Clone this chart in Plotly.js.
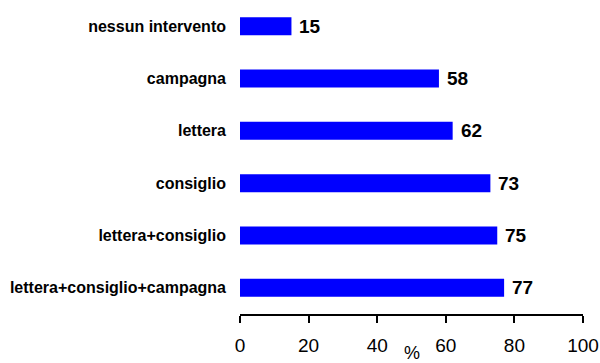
<!DOCTYPE html>
<html>
<head>
<meta charset="utf-8">
<script src="https://cdn.plot.ly/plotly-3.0.1.min.js"></script>
<style>html,body{margin:0;padding:0;background:#fff}#chart{width:600px;height:363px}</style>
</head>
<body>
<div id="chart"></div>
<script>
const categories = ["nessun intervento", "campagna", "lettera", "consiglio", "lettera+consiglio", "lettera+consiglio+campagna"];
const values = [15, 58, 62, 73, 75, 77];
const tickValues = [0, 20, 40, 60, 80, 100];
const axisTitle = "%";

const trace = {
  type: 'bar',
  orientation: 'h',
  y: categories,
  x: values,
  marker: {color: '#0000FF', line: {width: 0}},
  hoverinfo: 'none'
};

const valueLabels = categories.map((c, i) => ({
  x: values[i], y: c, xref: 'x', yref: 'y',
  text: String(values[i]), showarrow: false,
  xanchor: 'left', yanchor: 'middle', xshift: 6, yshift: 0,
  font: {family: 'Liberation Sans, Arial, sans-serif', size: 19, color: '#000', weight: 'bold'}
}));

const layout = {
  width: 600, height: 363,
  margin: {l: 240, r: 17, t: 0, b: 49},
  paper_bgcolor: '#fff', plot_bgcolor: '#fff',
  showlegend: false,
  bargap: 0.655,
  font: {family: 'Liberation Sans, Arial, sans-serif', color: '#000'},
  xaxis: {
    range: [0, 100], tickvals: tickValues, ticktext: tickValues.map(String),
    showgrid: false, zeroline: false,
    showline: true, linecolor: '#000', linewidth: 2,
    ticks: 'outside', ticklen: 7, tickwidth: 2, tickcolor: '#000',
    ticklabelstandoff: 6,
    tickfont: {size: 19, color: '#000'},
    fixedrange: true
  },
  yaxis: {
    autorange: 'reversed',
    showgrid: false, zeroline: false, showline: false, ticks: '',
    ticklabelstandoff: 13,
    tickfont: {size: 16, color: '#000', weight: 'bold'},
    fixedrange: true
  },
  annotations: valueLabels.concat([{
    text: axisTitle, xref: 'paper', yref: 'paper', x: 0.5, y: 0,
    xanchor: 'center', yanchor: 'middle', yshift: -39, showarrow: false,
    font: {family: 'Liberation Sans, Arial, sans-serif', size: 18, color: '#000'}
  }])
};

Plotly.newPlot('chart', [trace], layout, {staticPlot: true, displayModeBar: false});
</script>
</body>
</html>
